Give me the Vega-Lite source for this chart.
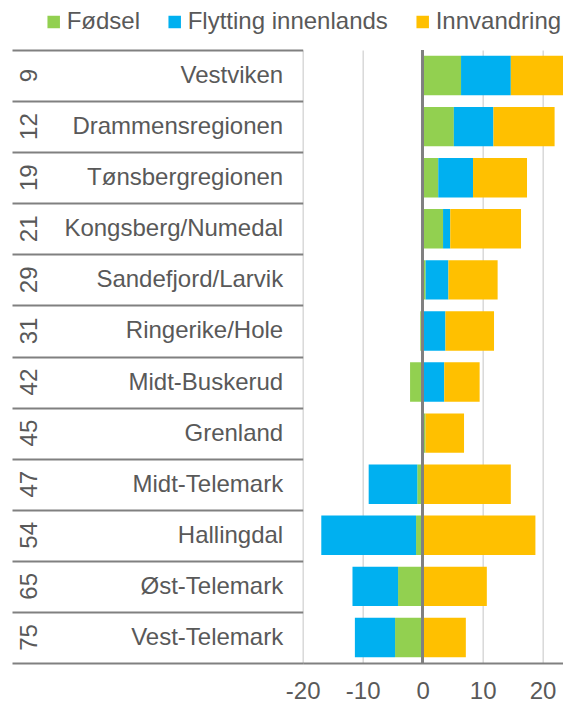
{
  "$schema": "https://vega.github.io/schema/vega-lite/v6.json",
  "width": 260.3,
  "height": 613,
  "autosize": {"type": "none"},
  "padding": {"left": 302.7, "top": 50, "right": 0, "bottom": 38},
  "background": "white",
  "config": {"view": {"stroke": null}, "font": "Liberation Sans"},
  "data": {"values": [
    {"rank": 9, "region": "Vestviken", "series": "Fødsel", "value": 6.4},
    {"rank": 9, "region": "Vestviken", "series": "Flytting innenlands", "value": 8.3},
    {"rank": 9, "region": "Vestviken", "series": "Innvandring", "value": 9.6},
    {"rank": 12, "region": "Drammensregionen", "series": "Fødsel", "value": 5.2},
    {"rank": 12, "region": "Drammensregionen", "series": "Flytting innenlands", "value": 6.6},
    {"rank": 12, "region": "Drammensregionen", "series": "Innvandring", "value": 10.2},
    {"rank": 19, "region": "Tønsbergregionen", "series": "Fødsel", "value": 2.6},
    {"rank": 19, "region": "Tønsbergregionen", "series": "Flytting innenlands", "value": 5.8},
    {"rank": 19, "region": "Tønsbergregionen", "series": "Innvandring", "value": 9.0},
    {"rank": 21, "region": "Kongsberg/Numedal", "series": "Fødsel", "value": 3.4},
    {"rank": 21, "region": "Kongsberg/Numedal", "series": "Flytting innenlands", "value": 1.2},
    {"rank": 21, "region": "Kongsberg/Numedal", "series": "Innvandring", "value": 11.8},
    {"rank": 29, "region": "Sandefjord/Larvik", "series": "Fødsel", "value": 0.5},
    {"rank": 29, "region": "Sandefjord/Larvik", "series": "Flytting innenlands", "value": 3.8},
    {"rank": 29, "region": "Sandefjord/Larvik", "series": "Innvandring", "value": 8.2},
    {"rank": 31, "region": "Ringerike/Hole", "series": "Fødsel", "value": -0.4},
    {"rank": 31, "region": "Ringerike/Hole", "series": "Flytting innenlands", "value": 3.8},
    {"rank": 31, "region": "Ringerike/Hole", "series": "Innvandring", "value": 8.1},
    {"rank": 42, "region": "Midt-Buskerud", "series": "Fødsel", "value": -2.1},
    {"rank": 42, "region": "Midt-Buskerud", "series": "Flytting innenlands", "value": 3.6},
    {"rank": 42, "region": "Midt-Buskerud", "series": "Innvandring", "value": 5.9},
    {"rank": 45, "region": "Grenland", "series": "Fødsel", "value": 0.4},
    {"rank": 45, "region": "Grenland", "series": "Flytting innenlands", "value": 0.05},
    {"rank": 45, "region": "Grenland", "series": "Innvandring", "value": 6.45},
    {"rank": 47, "region": "Midt-Telemark", "series": "Fødsel", "value": -0.9},
    {"rank": 47, "region": "Midt-Telemark", "series": "Flytting innenlands", "value": -8.1},
    {"rank": 47, "region": "Midt-Telemark", "series": "Innvandring", "value": 14.7},
    {"rank": 54, "region": "Hallingdal", "series": "Fødsel", "value": -1.1},
    {"rank": 54, "region": "Hallingdal", "series": "Flytting innenlands", "value": -15.8},
    {"rank": 54, "region": "Hallingdal", "series": "Innvandring", "value": 18.8},
    {"rank": 65, "region": "Øst-Telemark", "series": "Fødsel", "value": -4.1},
    {"rank": 65, "region": "Øst-Telemark", "series": "Flytting innenlands", "value": -7.6},
    {"rank": 65, "region": "Øst-Telemark", "series": "Innvandring", "value": 10.7},
    {"rank": 75, "region": "Vest-Telemark", "series": "Fødsel", "value": -4.6},
    {"rank": 75, "region": "Vest-Telemark", "series": "Flytting innenlands", "value": -6.7},
    {"rank": 75, "region": "Vest-Telemark", "series": "Innvandring", "value": 7.2}
  ]},
  "transform": [
    {"calculate": "indexof(['Fødsel', 'Flytting innenlands', 'Innvandring'], datum.series)", "as": "stackOrder"}
  ],
  "layer": [
    {
      "mark": {"type": "bar", "height": {"band": 0.77}, "clip": true},
      "encoding": {
        "y": {
          "field": "region", "type": "nominal", "sort": null,
          "scale": {"paddingInner": 0, "paddingOuter": 0},
          "axis": {
            "title": null, "domain": false, "grid": false,
            "ticks": true, "tickBand": "extent", "tickSize": 290.7,
            "tickColor": "#808080", "tickWidth": 2,
            "labelPadding": -270.7, "labelAlign": "right", "labelBaseline": "middle",
            "labelFontSize": 24, "labelColor": "#595959", "labelLimit": 400
          }
        },
        "x": {
          "field": "value", "type": "quantitative", "stack": "zero",
          "scale": {"domain": [-20, 23.4], "nice": false, "zero": false},
          "axis": {
            "title": null, "values": [-20, -10, 0, 10, 20],
            "ticks": false, "domain": true, "domainColor": "#808080", "domainWidth": 2,
            "grid": true, "gridColor": "#d9d9d9", "gridWidth": 1.5,
            "labelFontSize": 24, "labelColor": "#595959", "labelPadding": 16,
            "labelFlush": false, "labelExpr": "'' + datum.value"
          }
        },
        "order": {"field": "stackOrder", "type": "quantitative", "sort": "ascending"},
        "color": {
          "field": "series", "type": "nominal",
          "sort": ["Fødsel", "Flytting innenlands", "Innvandring"],
          "scale": {
            "domain": ["Fødsel", "Flytting innenlands", "Innvandring"],
            "range": ["#92D050", "#00B0F0", "#FFC000"]
          },
          "legend": {
            "title": null, "orient": "none", "legendX": -261, "legendY": -40,
            "direction": "horizontal", "columns": 3, "symbolType": "square",
            "symbolSize": 156, "symbolStrokeWidth": 0, "labelFontSize": 24,
            "labelColor": "#595959", "columnPadding": 22, "labelOffset": 1,
            "padding": 0, "labelLimit": 400
          }
        }
      }
    },
    {
      "mark": {"type": "rule", "color": "#808080", "strokeWidth": 2},
      "encoding": {"x": {"datum": 0}}
    },
    {
      "mark": {"type": "point", "opacity": 0},
      "encoding": {
        "y": {
          "field": "rank", "type": "nominal", "sort": null,
          "scale": {"type": "band", "paddingInner": 0, "paddingOuter": 0},
          "axis": {
            "title": null, "orient": "left", "domain": false, "ticks": false, "grid": false,
            "labelAngle": -90, "labelAlign": "center", "labelBaseline": "alphabetic",
            "labelPadding": 266, "labelFontSize": 24, "labelColor": "#595959"
          }
        }
      }
    }
  ],
  "resolve": {"scale": {"y": "independent"}, "axis": {"y": "independent"}}
}
